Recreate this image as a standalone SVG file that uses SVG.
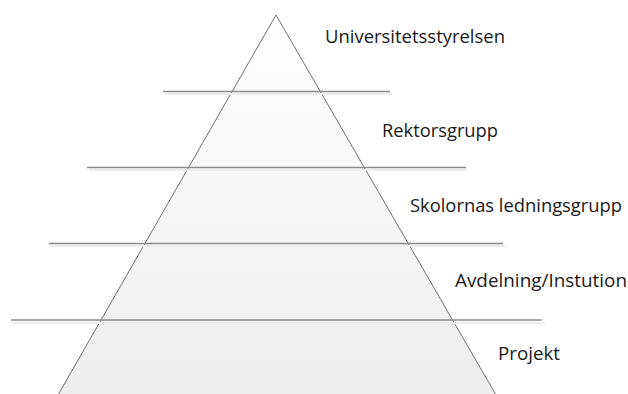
<svg xmlns="http://www.w3.org/2000/svg" width="628" height="394" viewBox="0 0 628 394">
<style>
.lvl{stroke:#8a8a8a;stroke-width:1.3;fill:none}
.sh{stroke:#ececec;stroke-width:2;fill:none}
.lbl{font-family:"Open Sans","Liberation Sans",sans-serif;font-size:18px;fill:#1a1a1a}
</style>
<defs>
<linearGradient id="g" x1="0" y1="0" x2="0" y2="1">
<stop offset="0" stop-color="#ffffff"/>
<stop offset="1" stop-color="#eeeeee"/>
</linearGradient>
</defs>
<rect width="628" height="394" fill="#ffffff"/>
<g id="pyramid">
<polygon points="276,15 58,395 496,395" fill="url(#g)" stroke="#6e6e6e" stroke-width="1"/>
</g>
<g id="connectors">
<line class="sh" x1="165" y1="94" x2="392" y2="94"/>
<line class="sh" x1="89" y1="170" x2="468" y2="170"/>
<line class="sh" x1="51" y1="246" x2="505" y2="246"/>
<line class="sh" x1="13" y1="323" x2="545" y2="323"/>
<line class="lvl" x1="163" y1="91.5" x2="390" y2="91.5"/>
<line class="lvl" x1="87" y1="167.5" x2="466" y2="167.5"/>
<line class="lvl" x1="49" y1="243.5" x2="503" y2="243.5"/>
<line class="lvl" x1="11" y1="320" x2="542" y2="320"/>
</g>
<g id="n1"><text class="lbl" x="325" y="43" textLength="180" lengthAdjust="spacingAndGlyphs">Universitetsstyrelsen</text></g>
<g id="n2"><text class="lbl" x="382" y="137" textLength="116" lengthAdjust="spacingAndGlyphs">Rektorsgrupp</text></g>
<g id="n3"><text class="lbl" x="410" y="212" textLength="212" lengthAdjust="spacingAndGlyphs">Skolornas ledningsgrupp</text></g>
<g id="n4"><text class="lbl" x="455" y="287" textLength="172" lengthAdjust="spacingAndGlyphs">Avdelning/Instution</text></g>
<g id="n5"><text class="lbl" x="498" y="360" textLength="62" lengthAdjust="spacingAndGlyphs">Projekt</text></g>
</svg>
